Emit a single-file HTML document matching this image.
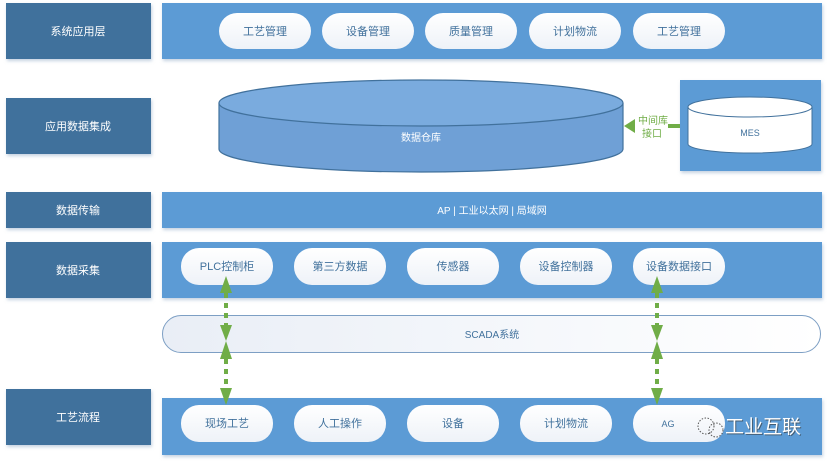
<!DOCTYPE html>
<html><head><meta charset="utf-8"><style>
html,body{margin:0;padding:0;background:#fff;}
svg{display:block;font-family:"Liberation Sans","Noto Sans CJK SC",sans-serif;}
</style></head><body>
<svg width="828" height="464" viewBox="0 0 828 464" xmlns="http://www.w3.org/2000/svg">
<defs>
<linearGradient id="pg" x1="0" y1="0" x2="0" y2="1"><stop offset="0" stop-color="#ffffff"/><stop offset="1" stop-color="#eef2f8"/></linearGradient>
<linearGradient id="sg" x1="0" y1="0" x2="1" y2="0"><stop offset="0" stop-color="#e9eef6"/><stop offset="1" stop-color="#ffffff"/></linearGradient>
<filter id="sh" x="-5%" y="-10%" width="110%" height="130%"><feDropShadow dx="1" dy="2" stdDeviation="1.5" flood-color="#9fb6cf" flood-opacity="0.6"/></filter>
</defs>
<g fill="#41719c" filter="url(#sh)">
<rect x="6" y="3" width="145" height="56"/>
<rect x="6" y="98" width="145" height="56"/>
<rect x="6" y="192" width="145" height="36"/>
<rect x="6" y="242" width="145" height="56"/>
<rect x="6" y="389" width="145" height="56"/>
</g>
<g fill="#fff" font-size="11" text-anchor="middle">
<text x="78" y="35">系统应用层</text>
<text x="78" y="130">应用数据集成</text>
<text x="78" y="214">数据传输</text>
<text x="78" y="274">数据采集</text>
<text x="78" y="421">工艺流程</text>
</g>
<g fill="#5b9bd5" filter="url(#sh)">
<rect x="162" y="3" width="660" height="56"/>
<rect x="162" y="192" width="660" height="36"/>
<rect x="162" y="242" width="660" height="56"/>
<rect x="162" y="398" width="660" height="57"/>
<rect x="680" y="80" width="141" height="91"/>
</g>
<text x="492" y="214" fill="#fff" font-size="10" text-anchor="middle">AP | 工业以太网 | 局域网</text>
<g fill="url(#pg)">
<rect x="219" y="13" width="92" height="36" rx="18"/>
<rect x="322" y="13" width="92" height="36" rx="18"/>
<rect x="425" y="13" width="92" height="36" rx="18"/>
<rect x="529" y="13" width="92" height="36" rx="18"/>
<rect x="633" y="13" width="92" height="36" rx="18"/>
<rect x="181" y="248" width="92" height="37" rx="18"/>
<rect x="294" y="248" width="92" height="37" rx="18"/>
<rect x="407" y="248" width="92" height="37" rx="18"/>
<rect x="520" y="248" width="92" height="37" rx="18"/>
<rect x="633" y="248" width="92" height="37" rx="18"/>
<rect x="181" y="405" width="92" height="37" rx="18"/>
<rect x="294" y="405" width="92" height="37" rx="18"/>
<rect x="407" y="405" width="92" height="37" rx="18"/>
<rect x="520" y="405" width="92" height="37" rx="18"/>
<rect x="633" y="405" width="92" height="37" rx="18"/>
</g>
<g fill="#41719c" font-size="11" text-anchor="middle">
<text x="265" y="35">工艺管理</text>
<text x="368" y="35">设备管理</text>
<text x="471" y="35">质量管理</text>
<text x="575" y="35">计划物流</text>
<text x="679" y="35">工艺管理</text>
<text x="227" y="270">PLC控制柜</text>
<text x="340" y="270">第三方数据</text>
<text x="453" y="270">传感器</text>
<text x="566" y="270">设备控制器</text>
<text x="679" y="270">设备数据接口</text>
<text x="227" y="427">现场工艺</text>
<text x="340" y="427">人工操作</text>
<text x="453" y="427">设备</text>
<text x="566" y="427">计划物流</text>
<text x="668" y="427" font-size="9">AG</text>
</g>
<rect x="162.5" y="315.5" width="658" height="37" rx="18.5" fill="url(#sg)" stroke="#7d9fc4"/>
<text x="492" y="338" fill="#41719c" font-size="10" text-anchor="middle">SCADA系统</text>
<!-- cylinder -->
<path d="M219 103 L219 149 A202 23 0 0 0 623 149 L623 103" fill="#6fa0d6" stroke="#41719c" stroke-width="1.2"/>
<ellipse cx="421" cy="103" rx="202" ry="23" fill="#7aabde" stroke="#41719c" stroke-width="1.2"/>
<text x="421" y="141" fill="#fff" font-size="10" text-anchor="middle">数据仓库</text>
<!-- MES -->
<path d="M688 107 L688 144 A62 9 0 0 0 812 144 L812 107" fill="#fff" stroke="#41719c"/>
<ellipse cx="750" cy="107" rx="62" ry="10" fill="#fff" stroke="#41719c"/>
<text x="750" y="136" fill="#41719c" font-size="9" text-anchor="middle">MES</text>
<!-- interface arrow -->
<polygon points="624,126 635,119 635,133" fill="#70ad47"/>
<rect x="668" y="124" width="12" height="4" fill="#70ad47"/>
<text x="653" y="124" fill="#70ad47" font-size="10" text-anchor="middle">中间库</text>
<text x="652" y="137" fill="#70ad47" font-size="10" text-anchor="middle">接口</text>
<!-- dashed arrows -->
<g fill="#70ad47" stroke="#70ad47">
<g transform="translate(226,0)">
<polygon points="0,276 -6,293 6,293" stroke="none"/>
<line x1="0" y1="293" x2="0" y2="326" stroke-width="4" stroke-dasharray="5,5"/>
<polygon points="0,341 -6,325 6,325" stroke="none"/>
<polygon points="0,341 -6,359 6,359" stroke="none"/>
<line x1="0" y1="359" x2="0" y2="390" stroke-width="4" stroke-dasharray="5,5"/>
<polygon points="0,405 -6,388 6,388" stroke="none"/>
</g>
<g transform="translate(657,0)">
<polygon points="0,276 -6,293 6,293" stroke="none"/>
<line x1="0" y1="293" x2="0" y2="326" stroke-width="4" stroke-dasharray="5,5"/>
<polygon points="0,341 -6,325 6,325" stroke="none"/>
<polygon points="0,341 -6,359 6,359" stroke="none"/>
<line x1="0" y1="359" x2="0" y2="390" stroke-width="4" stroke-dasharray="5,5"/>
<polygon points="0,405 -6,388 6,388" stroke="none"/>
</g>
</g>
<!-- watermark -->
<circle cx="706" cy="426" r="8" fill="none" stroke="#555" stroke-dasharray="1.5,1.5"/>
<circle cx="716" cy="430" r="7" fill="none" stroke="#555" stroke-dasharray="1.5,1.5"/>
<text x="726" y="434" fill="#333" font-size="19" opacity="0.6">工业互联</text>
<text x="725" y="433" fill="#fff" font-size="19">工业互联</text>
</svg>
</body></html>
